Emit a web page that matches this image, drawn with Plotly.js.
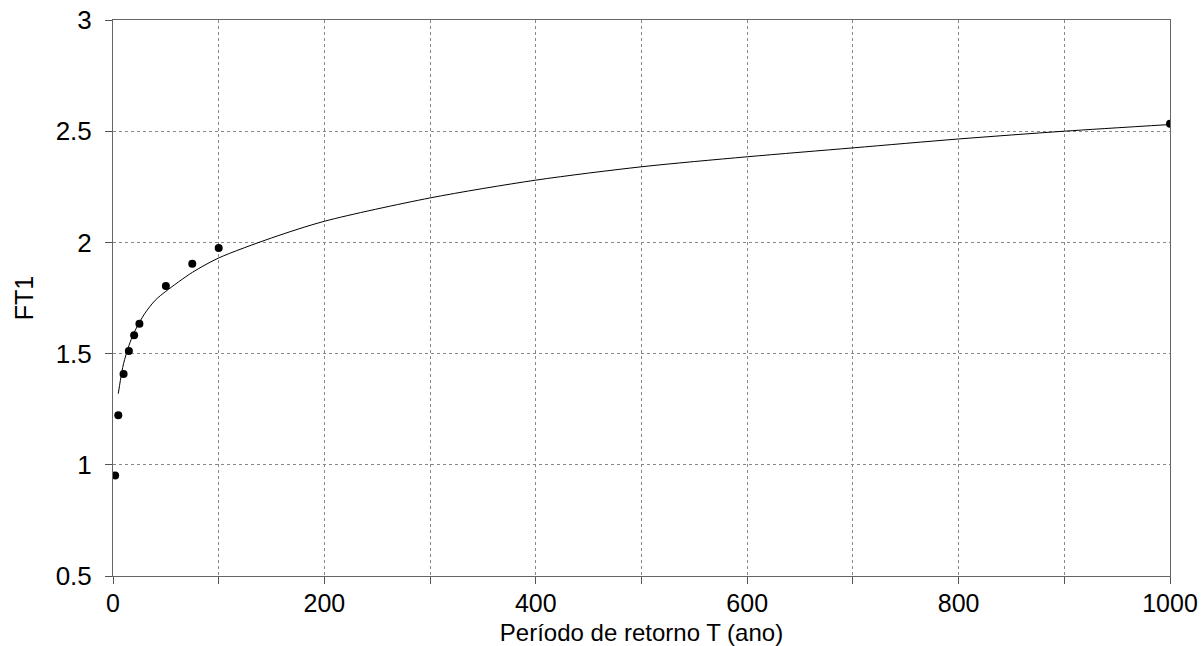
<!DOCTYPE html>
<html>
<head>
<meta charset="utf-8">
<script src="https://cdn.plot.ly/plotly-3.0.1.min.js"></script>
<style>html,body{margin:0;padding:0;background:#fff;}#chart{width:1202px;height:646px;}</style>
</head>
<body>
<div id="chart"></div>
<script>
// Observed points
const obsT = [2, 5, 10, 15, 20, 25, 50, 75, 100, 1000];
const obsFT1 = [0.952, 1.223, 1.408, 1.512, 1.583, 1.634, 1.804, 1.904, 1.975, 2.533];

// Fitted curve
const fitT = [5, 7, 10, 15, 20, 30, 40, 50, 75, 100, 150, 200, 300, 400, 500, 600, 700, 800, 900, 1000];
const fitFT1 = [1.32, 1.38, 1.455, 1.535, 1.595, 1.68, 1.74, 1.78, 1.865, 1.93, 2.02, 2.095, 2.20, 2.28, 2.34, 2.385, 2.425, 2.465, 2.50, 2.53];

// Tick labels
const xTickVals = [0, 100, 200, 300, 400, 500, 600, 700, 800, 900, 1000];
const xTickText = ['0', '', '200', '', '400', '', '600', '', '800', '', '1000'];
const yTickVals = [0.5, 1, 1.5, 2, 2.5, 3];
const yTickText = ['0.5', '1', '1.5', '2', '2.5', '3'];

const traces = [
  {
    x: fitT, y: fitFT1, type: 'scatter', mode: 'lines',
    line: {color: '#000', width: 1, shape: 'spline', smoothing: 0.8},
    hoverinfo: 'skip', showlegend: false
  },
  {
    x: obsT, y: obsFT1, type: 'scatter', mode: 'markers',
    marker: {color: '#000', size: 8},
    showlegend: false
  }
];

const fam = 'Liberation Sans, Arial, sans-serif';

const layout = {
  width: 1202, height: 646,
  margin: {l: 113, r: 32, t: 20, b: 70},
  paper_bgcolor: '#fff', plot_bgcolor: '#fff',
  font: {family: fam, color: '#000'},
  showlegend: false,
  xaxis: {
    range: [0, 1000],
    tickvals: xTickVals, ticktext: xTickText,
    ticks: 'outside', ticklen: 7, tickcolor: '#555', tickwidth: 1,
    ticklabelstandoff: -2,
    showgrid: true, gridcolor: '#888', griddash: 'dot', gridwidth: 1,
    zeroline: false,
    showline: true, linecolor: '#666', linewidth: 1, mirror: true,
    tickfont: {size: 25, family: fam, color: '#000'},
    title: {text: 'Período de retorno T (ano)', font: {size: 24, family: fam, color: '#000'}, standoff: 10}
  },
  yaxis: {
    range: [0.5, 3],
    tickvals: yTickVals, ticktext: yTickText,
    ticks: 'outside', ticklen: 7, tickcolor: '#555', tickwidth: 1,
    ticklabelstandoff: 8,
    showgrid: true, gridcolor: '#888', griddash: 'dot', gridwidth: 1,
    zeroline: false,
    showline: true, linecolor: '#666', linewidth: 1, mirror: true,
    tickfont: {size: 26, family: fam, color: '#000'},
    title: {text: 'FT1', font: {size: 25, family: fam, color: '#000'}, standoff: 14}
  }
};

Plotly.newPlot('chart', traces, layout, {displayModeBar: false, staticPlot: true});
</script>
</body>
</html>
